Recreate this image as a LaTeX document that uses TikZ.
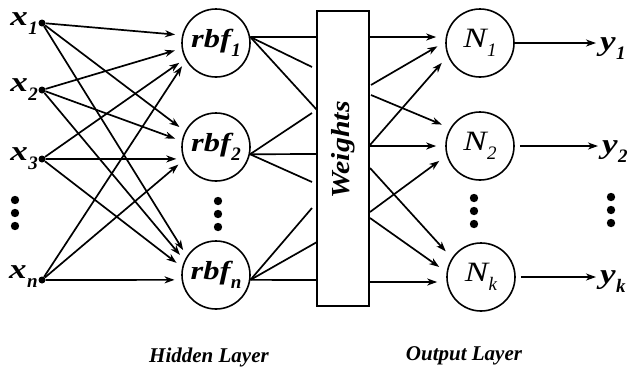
\documentclass[tikz,border=0pt]{standalone}
\usepackage{fontspec}
\setmainfont{Liberation Serif}
\usetikzlibrary{arrows.meta,calc}
\tikzset{>={Stealth[length=10pt,width=7pt,inset=3pt]}}

% main letter a bit wide, subscript dropped below it
\newcommand{\lab}[3][0.5pt]{\scalebox{1.25}[1]{#2}\kern#1\raisebox{-9pt}{\fontsize{19}{19}\selectfont #3}}

\tikzset{
  link/.style={line width=1.7pt},
  unit/.style={circle,fill,inner sep=0pt,minimum size=7pt},
  neuron/.style={draw,circle,line width=1.6pt,minimum size=68pt,inner sep=0pt},
  inlab/.style={font=\fontsize{28}{30}\selectfont\bfseries\itshape,inner sep=0pt,anchor=base east},
  outlab/.style={font=\fontsize{28}{30}\selectfont\bfseries\itshape,inner sep=0pt,anchor=base west},
  layerlab/.style={font=\fontsize{21}{24}\selectfont\bfseries\itshape,inner sep=0pt},
  vdots/.style={minimum width=10pt,minimum height=36pt,inner sep=0pt,
    path picture={\foreach \k in {-1,0,1}
      \fill ([yshift=\k*13pt]path picture bounding box.center) circle (4.2pt);}},
}

\begin{document}
\begin{tikzpicture}[x=1pt,y=-1pt]
    \useasboundingbox (0,0) rectangle (638,368);

    % Input units
    \node[unit] (x1) at (42,23) {};
    \node[unit] (x2) at (42,90) {};
    \node[unit] (x3) at (42,159) {};
    \node[unit] (xn) at (42,280) {};
    \node[inlab] (lx1) at (38,25) {\lab{x}{1}};
    \node[inlab] (lx2) at (38,91) {\lab{x}{2}};
    \node[inlab] (lx3) at (38,160) {\lab{x}{3}};
    \node[inlab] (lxn) at (38,278) {\lab{x}{n}};
    \node[vdots] (din) at (15,213) {};

    % Hidden layer
    \node[neuron,font=\fontsize{26}{28}\selectfont\bfseries\itshape] (rbf1) at (216,43) {\lab{rbf}{1}};
    \node[neuron,font=\fontsize{26}{28}\selectfont\bfseries\itshape] (rbf2) at (216,147) {\lab{rbf}{2}};
    \node[neuron,font=\fontsize{26}{28}\selectfont\bfseries\itshape] (rbfn) at (216,275) {\lab{rbf}{n}};
    \node[vdots] (dh) at (218,214) {};

    % Weights box
    \node[draw,line width=1.6pt,minimum width=52pt,minimum height=295pt,inner sep=0pt] (w) at (343,158.5) {};
    \node[font=\fontsize{26}{28}\selectfont\bfseries\itshape,rotate=90] (wlab) at (343,150) {\scalebox{1.15}[1]{Weights}};

    % Output layer
    \node[neuron,font=\fontsize{28}{30}\selectfont\itshape] (N1) at (480,43) {\lab{N}{1}};
    \node[neuron,font=\fontsize{28}{30}\selectfont\itshape] (N2) at (480,146) {\lab{N}{2}};
    \node[neuron,font=\fontsize{28}{30}\selectfont\itshape] (Nk) at (481,277) {\lab{N}{k}};
    \node[vdots] (dout) at (474,211) {};

    \node[outlab] (y1) at (600,50) {\lab{y}{1}};
    \node[outlab] (y2) at (602,153) {\lab{y}{2}};
    \node[outlab] (yk) at (600,283) {\lab{y}{k}};
    \node[vdots] (dy) at (611,210) {};

    % Inputs to rbf units
    \begin{scope}[link,->,shorten >=7pt]
        \draw (x1) -- (rbf1.167);
        \draw (x1) -- (rbf2.153);
        \draw (x1) -- (rbfn.147);
        \draw (x2) -- (rbf1.189);
        \draw (x2) -- (rbf2.170);
        \draw (x2) -- (rbfn.155);
        \draw (x3) -- (rbf1.207);
        \draw (x3) -- (rbf2.200);
        \draw (x3) -- (rbfn.167);
        \draw (xn) -- (rbf1.210);
        \draw (xn) -- (rbf2.202);
        \draw (xn) -- (rbfn.188);
    \end{scope}

    % rbf units into the weights
    \coordinate (w1a) at (317,37);
    \coordinate (w1b) at (312,67);
    \coordinate (w1c) at (317,110);
    \coordinate (w2a) at (312,113);
    \coordinate (w2b) at (317,154);
    \coordinate (w2c) at (312,182);
    \coordinate (wna) at (312,208);
    \coordinate (wnb) at (317,242);
    \coordinate (wnc) at (317,280);
    \foreach \t in {w1a,w1b,w1c} \draw[link] (rbf1.10) -- (\t);
    \foreach \t in {w2a,w2b,w2c} \draw[link] (rbf2.-12) -- (\t);
    \foreach \t in {wna,wnb,wnc} \draw[link] (rbfn.-8) -- (\t);

    % Weights to output units
    \coordinate (r1) at (370,37);
    \coordinate (r2) at (371,85);
    \coordinate (r3) at (370,145);
    \coordinate (r4) at (371,95);
    \coordinate (r5) at (370,146);
    \coordinate (r6) at (370,212);
    \coordinate (r7) at (370,168);
    \coordinate (r8) at (370,218);
    \coordinate (r9) at (370,282);
    \begin{scope}[link,->,shorten >=9pt]
        \draw (r1) -- (r1 -| N1.west);
        \draw (r2) -- (N1.178);
        \draw (r3) -- (N1.202);
        \draw (r4) -- (N2.149);
        \draw (r5) -- (r5 -| N2.west);
        \draw (r6) -- (N2.196);
        \draw (r7) -- (Nk.147);
        \draw (r8) -- (Nk.172);
        \draw (r9) -- (r9 -| Nk.west);
    \end{scope}

    % Outputs
    \draw[link,->,shorten >=4pt] (N1.east) -- (N1.east -| y1.west);
    \draw[link,->,shorten <=5pt,shorten >=4pt] (N2.east) -- (N2.east -| y2.west);
    \draw[link,->,shorten <=5pt,shorten >=4pt] (Nk.east) -- (Nk.east -| yk.west);

    % Layer names
    \node[layerlab] (hid) at (209,357) {Hidden Layer};
    \node[layerlab] (outl) at (464,356) {Output Layer};
\end{tikzpicture}
\end{document}
